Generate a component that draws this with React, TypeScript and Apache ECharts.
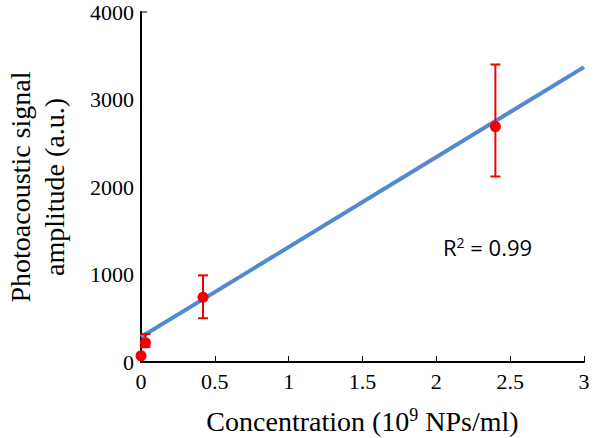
import { useEffect, useRef } from 'react';
import * as echarts from 'echarts';

// measured points (10^9 NPs/ml vs. a.u.)
const concentration = [0, 0.03, 0.42, 2.4];
const amplitude = [70, 220, 740, 2690];
const errLow = [70, 170, 500, 2120];
const errHigh = [70, 320, 990, 3400];

// linear fit
const fitX = [0, 3];
const fitY = [285, 3370];

const xTicks = [0, 0.5, 1, 1.5, 2, 2.5, 3];
const yTicks = [0, 1000, 2000, 3000, 4000];

const RED = '#f20000';
const BLUE = '#5389d2';
const SERIF = '"Liberation Serif", "Times New Roman", serif';
const SANS = '"Open Sans", "Liberation Sans", sans-serif';

export default function App() {
  const chartRef = useRef<HTMLDivElement>(null);

  useEffect(() => {
    if (!chartRef.current) return;

    const chart = echarts.init(chartRef.current, null, { renderer: 'svg' });

    const option: any = {
      animation: false,
      grid: { left: 141, right: 16, top: 12, bottom: 76, containLabel: false, outerBoundsMode: 'none' },
      xAxis: {
        type: 'value',
        min: xTicks[0],
        max: xTicks[xTicks.length - 1],
        interval: 0.5,
        name: 'Concentration (10{sup|9} NPs/ml)',
        nameLocation: 'middle',
        nameGap: 44,
        nameTextStyle: {
          fontFamily: SERIF,
          fontSize: 28,
          color: '#000',
          rich: {
            sup: { fontFamily: SERIF, fontSize: 18, color: '#000', verticalAlign: 'top', padding: [0, 0, 12, 0] },
          },
        },
        axisLine: { lineStyle: { color: '#000', width: 2 } },
        axisTick: { show: true, inside: true, length: 6, lineStyle: { color: '#000', width: 1 } },
        axisLabel: {
          fontFamily: SERIF,
          fontSize: 22,
          color: '#000',
          margin: 8,
          formatter: (v: number) => String(v),
        },
        splitLine: { show: false },
      },
      yAxis: {
        type: 'value',
        min: yTicks[0],
        max: yTicks[yTicks.length - 1],
        interval: 1000,
        name: 'Photoacoustic signal\namplitude (a.u.)',
        nameLocation: 'middle',
        nameRotate: 90,
        nameGap: 70,
        nameTextStyle: {
          fontFamily: SERIF,
          fontSize: 28,
          color: '#000',
          lineHeight: 34,
        },
        axisLine: { show: true, lineStyle: { color: '#000', width: 2 } },
        axisTick: { show: false },
        axisLabel: {
          fontFamily: SERIF,
          fontSize: 22,
          color: '#000',
          margin: 7,
          formatter: (v: number) => String(v),
        },
        splitLine: { show: false },
      },
      graphic: [
        {
          type: 'text',
          left: 443,
          top: 235,
          style: {
            text: 'R{sup|2} = 0.99',
            fontFamily: SANS,
            fontSize: 22,
            fill: '#000',
            rich: {
              sup: {
                fontFamily: SANS,
                fontSize: 14,
                fill: '#000',
                verticalAlign: 'top',
                padding: [0, 0, 9, 0],
              },
            },
          },
        },
        {
          type: 'line',
          shape: { x1: 141, y1: 12, x2: 147, y2: 12 },
          style: { stroke: '#000', lineWidth: 1 },
        },
      ],
      series: [
        {
          name: 'fit',
          type: 'line',
          data: fitX.map((x, i) => [x, fitY[i]]),
          symbol: 'none',
          lineStyle: { color: BLUE, width: 4 },
          z: 2,
        },
        {
          name: 'error',
          type: 'custom',
          data: concentration.map((x, i) => [x, errLow[i], errHigh[i]]),
          encode: { x: 0, y: [1, 2] },
          clip: false,
          z: 3,
          renderItem: (params: any, api: any) => {
            const x = api.value(0);
            const lo = api.value(1);
            const hi = api.value(2);
            if (lo === hi) return { type: 'group', children: [] };
            const top = api.coord([x, hi]);
            const bot = api.coord([x, lo]);
            const w = 5;
            const style = { stroke: RED, lineWidth: 2 };
            return {
              type: 'group',
              children: [
                { type: 'line', shape: { x1: top[0], y1: top[1], x2: bot[0], y2: bot[1] }, style },
                { type: 'line', shape: { x1: top[0] - w, y1: top[1], x2: top[0] + w, y2: top[1] }, style },
                { type: 'line', shape: { x1: bot[0] - w, y1: bot[1], x2: bot[0] + w, y2: bot[1] }, style },
              ],
            };
          },
        },
        {
          name: 'data',
          type: 'scatter',
          data: concentration.map((x, i) => [x, amplitude[i]]),
          symbol: 'circle',
          symbolSize: 11,
          itemStyle: { color: RED, opacity: 1 },
          clip: false,
          z: 4,
        },
      ],
    };

    chart.setOption(option);

    return () => {
      chart.dispose();
    };
  }, []);

  return (
    <div
      ref={chartRef}
      style={{ position: 'fixed', left: 0, top: 0, width: '600px', height: '438px', background: '#fff' }}
    />
  );
}
